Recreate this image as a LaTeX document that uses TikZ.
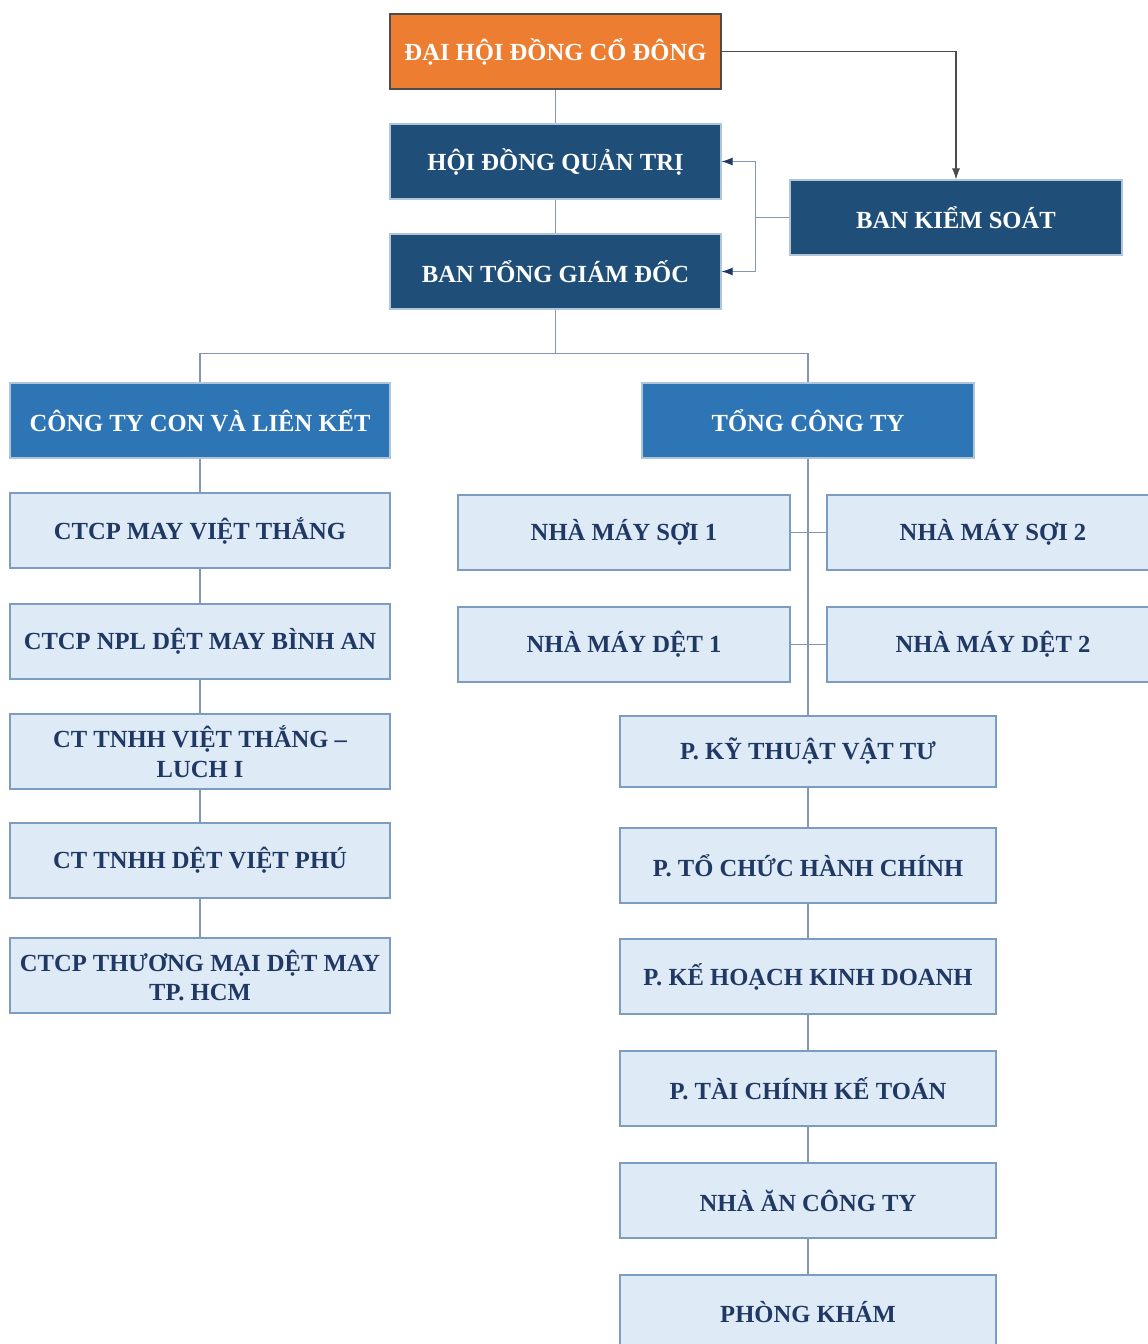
\documentclass[tikz,border=0pt]{standalone}
\usepackage{fontspec}
\setmainfont{Liberation Serif}
\usetikzlibrary{arrows.meta}
\definecolor{meetOrange}{HTML}{ED7D31}
\definecolor{boardBlue}{HTML}{1F4E79}
\definecolor{groupBlue}{HTML}{2E75B6}
\definecolor{unitFill}{HTML}{DEEAF6}
\definecolor{unitLine}{HTML}{7C9CC2}
\definecolor{unitText}{HTML}{1F3864}
\definecolor{linkGray}{HTML}{8497B0}
\tikzset{
    orgtext/.style={font=\bfseries\fontsize{14}{17}\selectfont, align=center, inner sep=0pt},
    meetbox/.style={orgtext, draw=black!70, fill=meetOrange, text=white, line width=0.7pt},
    boardbox/.style={orgtext, draw=unitLine!60, fill=boardBlue, text=white, line width=0.6pt},
    groupbox/.style={orgtext, draw=unitLine!60, fill=groupBlue, text=white, line width=0.6pt},
    unitbox/.style={orgtext, draw=unitLine, fill=unitFill, text=unitText, line width=0.7pt},
    link/.style={draw=linkGray, line width=0.6pt},
    tip/.style={-{Latex[length=2.2mm,width=1.6mm,color=unitText]}},
}
% box from its corners (in px): style, name, left, top, right, bottom, text
\newcommand\OrgUnit[7]{%
    \node[#1, minimum width={(#5-#3)*0.02cm}, minimum height={(#6-#4)*0.02cm}]
        (#2) at ({(#3+#5)/2},{(#4+#6)/2}) {#7};
}
\begin{document}
\begin{tikzpicture}[x=0.02cm,y=-0.02cm]
    \useasboundingbox (0,0) rectangle (1147,1344);
    % top level
    \OrgUnit{meetbox}{dhcd}{390}{14}{721}{89}{ĐẠI HỘI ĐỒNG CỔ ĐÔNG}
    \OrgUnit{boardbox}{hdqt}{390}{124}{721}{199}{HỘI ĐỒNG QUẢN TRỊ}
    \OrgUnit{boardbox}{tgd}{390}{234}{721}{309}{BAN TỔNG GIÁM ĐỐC}
    \OrgUnit{boardbox}{bks}{790}{180}{1122}{255}{BAN KIỂM SOÁT}
    % two branches
    \OrgUnit{groupbox}{ctycon}{10}{383}{390}{458}{CÔNG TY CON VÀ LIÊN KẾT}
    \OrgUnit{groupbox}{tongcty}{642}{383}{974}{458}{TỔNG CÔNG TY}
    % subsidiaries
    \OrgUnit{unitbox}{vthang}{10}{493}{390}{568}{CTCP MAY VIỆT THẮNG}
    \OrgUnit{unitbox}{binhan}{10}{604}{390}{679}{CTCP NPL DỆT MAY BÌNH AN}
    \OrgUnit{unitbox}{luch}{10}{714}{390}{789}{CT TNHH VIỆT THẮNG –\\LUCH I}
    \OrgUnit{unitbox}{vphu}{10}{823}{390}{898}{CT TNHH DỆT VIỆT PHÚ}
    \OrgUnit{unitbox}{tmdm}{10}{938}{390}{1013}{CTCP THƯƠNG MẠI DỆT MAY\\TP. HCM}
    % factories
    \OrgUnit{unitbox}{soi1}{458}{495}{790}{570}{NHÀ MÁY SỢI 1}
    \OrgUnit{unitbox}{soi2}{827}{495}{1159}{570}{NHÀ MÁY SỢI 2}
    \OrgUnit{unitbox}{det1}{458}{607}{790}{682}{NHÀ MÁY DỆT 1}
    \OrgUnit{unitbox}{det2}{827}{607}{1159}{682}{NHÀ MÁY DỆT 2}
    % departments
    \OrgUnit{unitbox}{ktvt}{620}{716}{996}{787}{P. KỸ THUẬT VẬT TƯ}
    \OrgUnit{unitbox}{tchc}{620}{828}{996}{903}{P. TỔ CHỨC HÀNH CHÍNH}
    \OrgUnit{unitbox}{khkd}{620}{939}{996}{1014}{P. KẾ HOẠCH KINH DOANH}
    \OrgUnit{unitbox}{tckt}{620}{1051}{996}{1126}{P. TÀI CHÍNH KẾ TOÁN}
    \OrgUnit{unitbox}{nhaan}{620}{1163}{996}{1238}{NHÀ ĂN CÔNG TY}
    \OrgUnit{unitbox}{pkham}{620}{1275}{996}{1350}{PHÒNG KHÁM}

    % connectors
    \draw[link] (dhcd) -- (hdqt) -- (tgd);
    \draw[link,draw=black!70,-{Latex[length=2.2mm,width=1.6mm]}] (dhcd.east) -| (bks.north);
    \draw[link] (bks.west) -- ++(-34,0) coordinate (ksJoin);
    \draw[link,tip] (ksJoin) |- (hdqt.east);
    \draw[link,tip] (ksJoin) |- (tgd.east);
    \draw[link] (tgd.south) -- ++(0,44) coordinate (splitJoin);
    \draw[link] (ctycon.north) |- (splitJoin) -| (tongcty.north);
    \foreach \a/\b in {ctycon/vthang, vthang/binhan, binhan/luch, luch/vphu, vphu/tmdm}
        \draw[link] (\a) -- (\b);
    \draw[link] (tongcty) -- (ktvt);
    \draw[link] (soi1) -- (soi2);
    \draw[link] (det1) -- (det2);
    \foreach \a/\b in {ktvt/tchc, tchc/khkd, khkd/tckt, tckt/nhaan, nhaan/pkham}
        \draw[link] (\a) -- (\b);
\end{tikzpicture}
\end{document}
